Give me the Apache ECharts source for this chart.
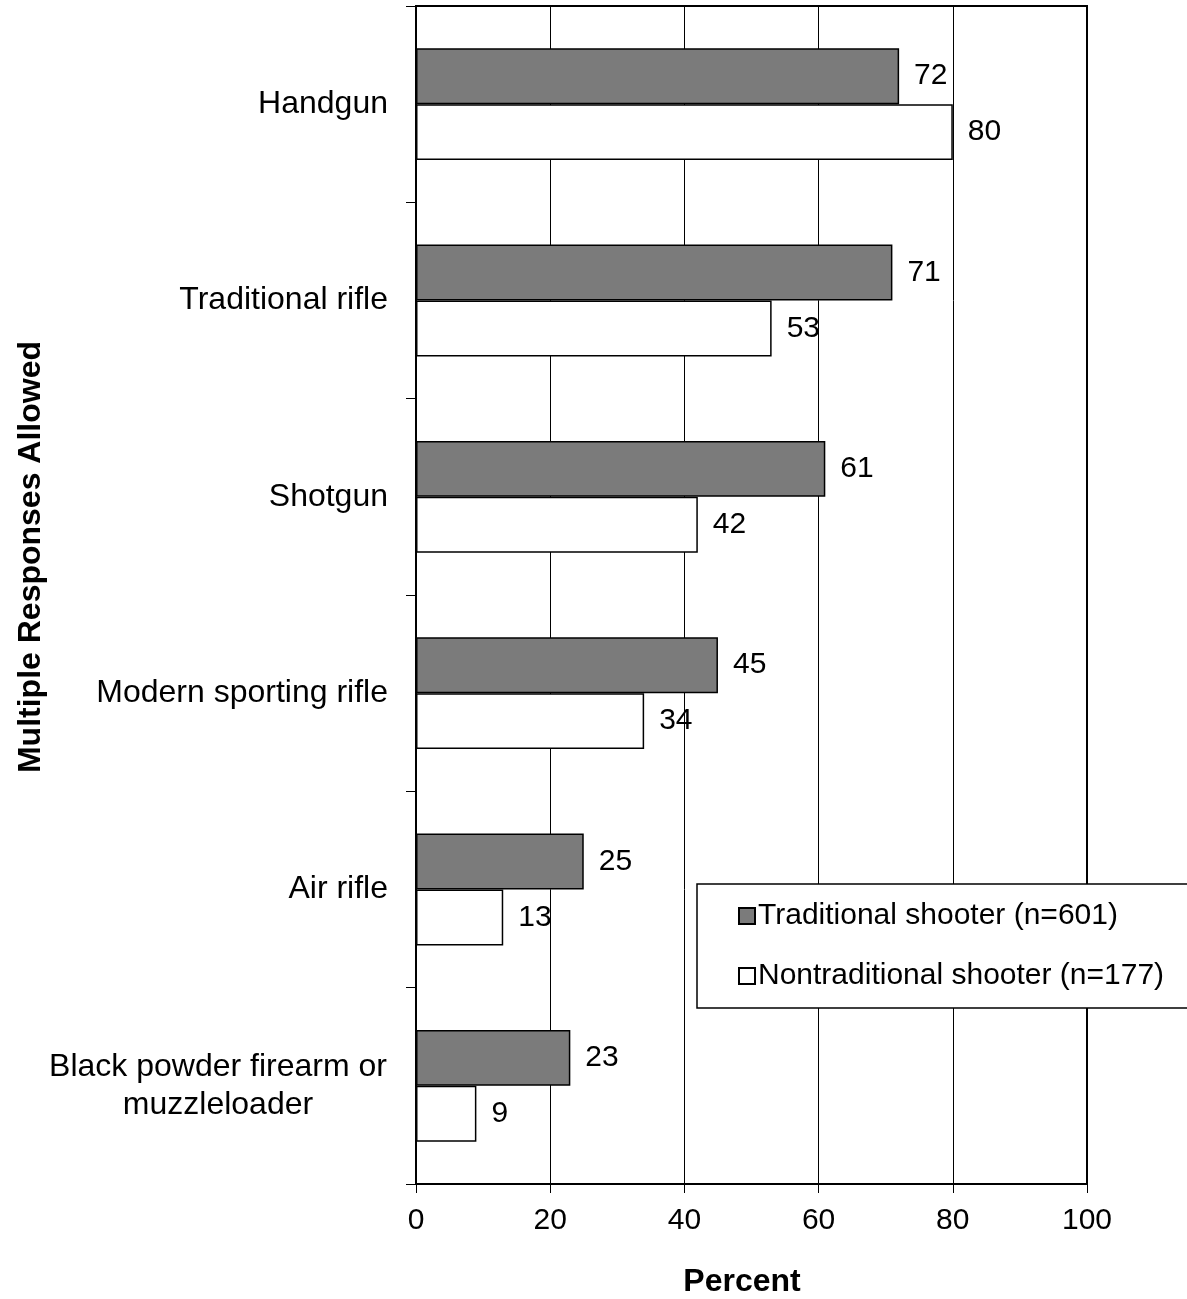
<!DOCTYPE html>
<html>
<head>
<meta charset="utf-8">
<script src="https://cdn.jsdelivr.net/npm/echarts@6/dist/echarts.min.js"></script>
<style>html,body{margin:0;padding:0;background:#fff}#c{width:1187px;height:1299px}</style>
</head>
<body>
<div id="c"></div>
<script>
const categories = ['Handgun', 'Traditional rifle', 'Shotgun', 'Modern sporting rifle', 'Air rifle', 'Black powder firearm or\nmuzzleloader'];
const traditional = [72, 71, 61, 45, 25, 23];
const nontraditional = [80, 53, 42, 34, 13, 9];
const xTicks = [0, 20, 40, 60, 80, 100];
const seriesNames = ['Traditional shooter (n=601)', 'Nontraditional shooter (n=177)'];

const FONT = '"Liberation Sans", Arial, sans-serif';
const FS = 30;
const FC = 32;
const chart = echarts.init(document.getElementById('c'), null, {renderer: 'canvas'});
const labelCfg = {show: true, position: 'right', distance: 15, color: '#000', fontSize: FS, fontFamily: FONT};
chart.setOption({
  backgroundColor: '#fff',
  animation: false,
  textStyle: {fontFamily: FONT},
  grid: {left: 416, right: 100, top: 6, bottom: 115, show: true, borderColor: '#000', borderWidth: 2, containLabel: false},
  xAxis: {
    type: 'value', min: xTicks[0], max: xTicks[xTicks.length - 1], interval: 20,
    axisLine: {show: true, lineStyle: {color: '#000', width: 2}},
    axisTick: {show: true, inside: false, length: 9, lineStyle: {color: '#000', width: 1}},
    splitLine: {show: true, lineStyle: {color: '#000', width: 1}},
    axisLabel: {color: '#000', fontSize: FS, fontFamily: FONT, margin: 22}
  },
  yAxis: {
    type: 'category', data: categories, inverse: true,
    axisLine: {show: true, lineStyle: {color: '#000', width: 2}},
    axisTick: {show: true, length: 10, interval: 0, lineStyle: {color: '#000', width: 1}},
    axisLabel: {
      color: '#000', fontSize: FC, fontFamily: FONT, margin: 28, interval: 0,
      formatter: function (v) {
        if (v.indexOf('\n') >= 0) {
          return v.split('\n').map(s => '{c|' + s + '}').join('\n');
        }
        return v;
      },
      rich: {c: {width: 340, align: 'center', fontSize: FC, fontFamily: FONT, color: '#000', lineHeight: 38}}
    }
  },
  legend: {
    orient: 'vertical', left: 697, top: 884,
    padding: [17, 30, 17, 41],
    backgroundColor: '#fff', borderColor: '#000', borderWidth: 1.5,
    icon: 'rect',
    itemWidth: 16, itemHeight: 16, itemGap: 30,
    textStyle: {color: '#000', fontSize: FS, fontFamily: FONT, padding: [0, 0, 0, -2]},
    data: seriesNames
  },
  series: [
    {
      name: seriesNames[0], type: 'bar', data: traditional,
      barGap: '0%', barCategoryGap: '43%',
      itemStyle: {color: '#7b7b7b', borderColor: '#000', borderWidth: 1.5},
      label: labelCfg
    },
    {
      name: seriesNames[1], type: 'bar', data: nontraditional,
      barGap: '0%', barCategoryGap: '43%',
      itemStyle: {color: '#fff', borderColor: '#000', borderWidth: 1.5},
      label: labelCfg
    }
  ],
  graphic: [
    {type: 'text', x: 31, y: 557, rotation: Math.PI / 2,
      style: {text: 'Multiple Responses Allowed', fill: '#000', font: 'bold ' + FC + 'px ' + FONT, textAlign: 'center', textVerticalAlign: 'middle'}},
    {type: 'text', x: 742, y: 1282,
      style: {text: 'Percent', fill: '#000', font: 'bold ' + FC + 'px ' + FONT, textAlign: 'center', textVerticalAlign: 'middle'}}
  ]
});
</script>
</body>
</html>
